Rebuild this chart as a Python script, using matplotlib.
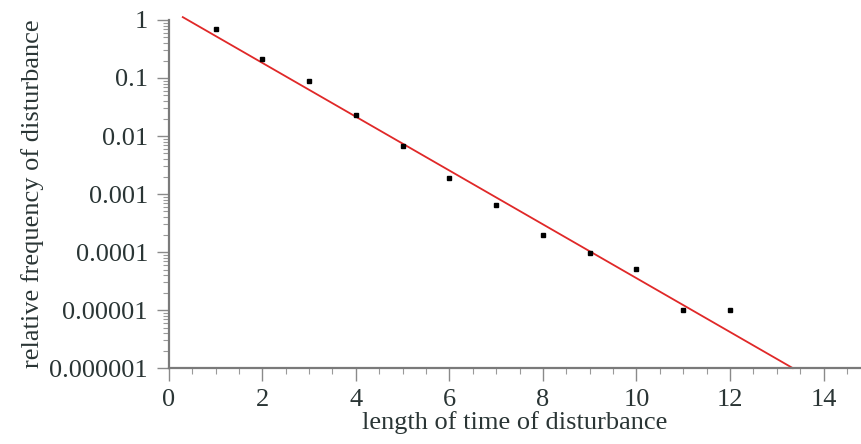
import numpy as np
import matplotlib
matplotlib.use("Agg")
import matplotlib.pyplot as plt
from matplotlib.ticker import FixedLocator, MultipleLocator, LogLocator, NullFormatter

plt.rcParams['font.family'] = ['Liberation Serif', 'DejaVu Serif']

# observed relative frequencies
length = [1, 2, 3, 4, 5, 6, 7, 8, 9, 10, 11, 12]
freq = [0.70, 0.21, 0.089, 0.023, 0.0067, 0.0019, 0.00065, 0.000196,
        0.000096, 0.000051, 0.00001, 0.00001]

# fitted straight line (end points)
fit_x = [0.3, 13.34]
fit_y = [1.12, 0.000001]

y_ticks = [1, 0.1, 0.01, 0.001, 0.0001, 0.00001, 0.000001]
y_labels = ['1', '0.1', '0.01', '0.001', '0.0001', '0.00001', '0.000001']
x_ticks = [0, 2, 4, 6, 8, 10, 12, 14]

fig = plt.figure(figsize=(8.61, 4.44), dpi=100)
ax = fig.add_axes([0.196, 0.171, 0.804, 0.784])

ax.plot(fit_x, fit_y, color='#e02828', lw=1.3, clip_on=False, zorder=2)
ax.plot(length, freq, 's', color='black', ms=2.3, zorder=3)

ax.set_yscale('log')
ax.set_ylim(0.000001, 1)
ax.set_xlim(0, 14.8)

ax.yaxis.set_major_locator(FixedLocator(y_ticks))
ax.set_yticklabels(y_labels)
ax.yaxis.set_minor_locator(LogLocator(base=10, subs=np.arange(2, 10)))
ax.yaxis.set_minor_formatter(NullFormatter())
ax.xaxis.set_major_locator(FixedLocator(x_ticks))
ax.xaxis.set_minor_locator(MultipleLocator(0.5))

for s in ['top', 'right']:
    ax.spines[s].set_visible(False)
for s in ['left', 'bottom']:
    ax.spines[s].set_color('#7a7a7a')
    ax.spines[s].set_linewidth(1.6)

ax.tick_params(which='major', length=9, width=1.0, color='#8a8a8a',
               labelsize=19, labelcolor='#2a3535')
ax.tick_params(axis='y', which='major', pad=6)
ax.tick_params(axis='x', which='major', pad=6)
ax.tick_params(which='minor', length=4.5, width=0.8, color='#9a9a9a')

ax.set_xlabel('length of time of disturbance', fontsize=19, color='#2a3535', labelpad=0)
ax.set_ylabel('relative frequency of disturbance', fontsize=19, color='#2a3535', labelpad=4)

fig.savefig('out.png', dpi=100)
